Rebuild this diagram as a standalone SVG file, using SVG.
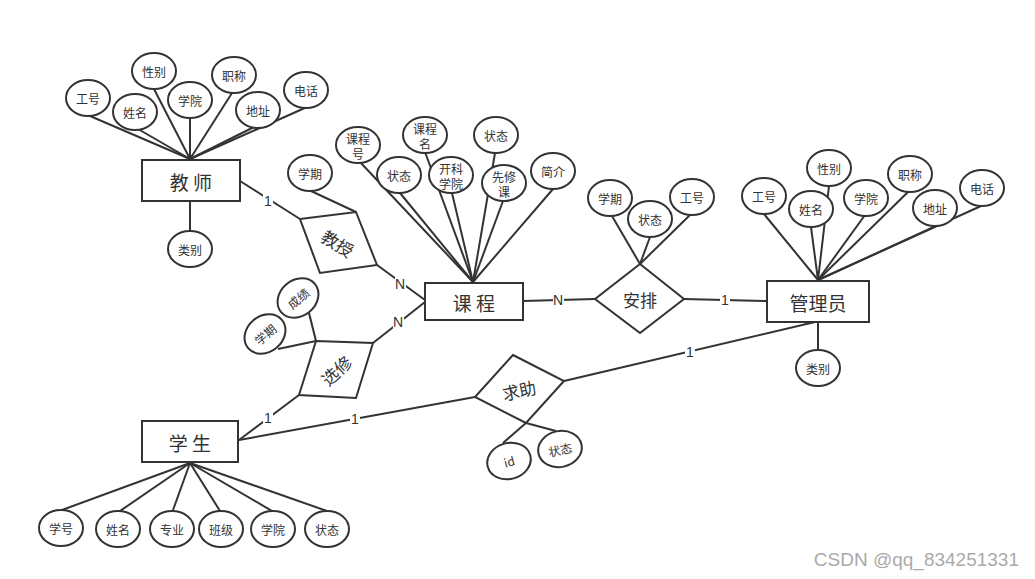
<svg xmlns="http://www.w3.org/2000/svg" width="1035" height="579" viewBox="0 0 1035 579">
<style>
.ln{stroke:#333;stroke-width:2;fill:none}
.at{fill:#fff;stroke:#333;stroke-width:2}
.en{fill:#fff;stroke:#333;stroke-width:2}
.rl{fill:#fff;stroke:#333;stroke-width:2}
.t{font-family:"Noto Sans CJK SC","Liberation Sans",sans-serif;font-size:12px;fill:#333;text-anchor:middle;dominant-baseline:central}
.te{font-family:"Noto Sans CJK SC","Liberation Sans",sans-serif;font-size:19px;fill:#333;text-anchor:middle;dominant-baseline:central}
.tr{font-family:"Noto Sans CJK SC","Liberation Sans",sans-serif;font-size:17px;fill:#333;text-anchor:middle;dominant-baseline:central}
.lb{font-family:"Liberation Sans",sans-serif;font-size:14px;fill:#333;text-anchor:middle;dominant-baseline:central}
</style>
<rect width="1035" height="579" fill="#fff"/>
<g id="connectors">
<!-- teacher attrs -->
<line class="ln" x1="190" y1="159" x2="90" y2="116"/>
<line class="ln" x1="190" y1="159" x2="138" y2="129"/>
<line class="ln" x1="190" y1="159" x2="154" y2="89"/>
<line class="ln" x1="190" y1="159" x2="190" y2="118"/>
<line class="ln" x1="190" y1="159" x2="232" y2="93"/>
<line class="ln" x1="190" y1="159" x2="254" y2="127"/>
<line class="ln" x1="190" y1="159" x2="307" y2="107"/>
<line class="ln" x1="190" y1="201" x2="190" y2="231"/>
<!-- teacher - teach -->
<line class="ln" x1="240" y1="181" x2="300" y2="219"/>
<line class="ln" x1="311" y1="191" x2="356" y2="212"/>
<line class="ln" x1="377" y1="265" x2="425" y2="300"/>
<!-- course attrs -->
<line class="ln" x1="473" y1="282" x2="360" y2="162"/>
<line class="ln" x1="473" y1="282" x2="400" y2="193"/>
<line class="ln" x1="473" y1="282" x2="425" y2="152"/>
<line class="ln" x1="473" y1="282" x2="452" y2="193"/>
<line class="ln" x1="473" y1="282" x2="495" y2="153"/>
<line class="ln" x1="473" y1="282" x2="503" y2="201"/>
<line class="ln" x1="473" y1="282" x2="553" y2="189"/>
<!-- course - arrange - admin -->
<line class="ln" x1="523" y1="301" x2="595" y2="299"/>
<line class="ln" x1="684" y1="299" x2="767" y2="301"/>
<line class="ln" x1="640" y1="264" x2="612" y2="216"/>
<line class="ln" x1="640" y1="264" x2="650" y2="237"/>
<line class="ln" x1="640" y1="264" x2="690" y2="215"/>
<!-- admin attrs -->
<line class="ln" x1="818" y1="280" x2="764" y2="214"/>
<line class="ln" x1="818" y1="280" x2="811" y2="227"/>
<line class="ln" x1="818" y1="280" x2="829" y2="186"/>
<line class="ln" x1="818" y1="280" x2="865" y2="215"/>
<line class="ln" x1="818" y1="280" x2="908" y2="192"/>
<line class="ln" x1="818" y1="280" x2="936" y2="226"/>
<line class="ln" x1="818" y1="280" x2="981" y2="206"/>
<line class="ln" x1="818" y1="322" x2="818" y2="351"/>
<!-- admin - help - student -->
<line class="ln" x1="815" y1="322" x2="564" y2="381"/>
<line class="ln" x1="475" y1="397" x2="239" y2="440"/>
<line class="ln" x1="526" y1="423" x2="503" y2="443"/>
<line class="ln" x1="526" y1="423" x2="556" y2="431"/>
<!-- elective -->
<line class="ln" x1="373" y1="343" x2="425" y2="302"/>
<line class="ln" x1="299" y1="395" x2="239" y2="440"/>
<line class="ln" x1="309" y1="313" x2="316" y2="341"/>
<line class="ln" x1="278" y1="349" x2="316" y2="341"/>
<!-- student attrs -->
<line class="ln" x1="190" y1="463" x2="62" y2="510"/>
<line class="ln" x1="190" y1="463" x2="120" y2="511"/>
<line class="ln" x1="190" y1="463" x2="173" y2="510"/>
<line class="ln" x1="190" y1="463" x2="220" y2="511"/>
<line class="ln" x1="190" y1="463" x2="272" y2="511"/>
<line class="ln" x1="190" y1="463" x2="327" y2="511"/>
<!-- labels -->
<rect x="263" y="194" width="10" height="14" fill="#fff"/>
<text class="lb" x="268" y="201">1</text>
<rect x="395" y="277" width="11" height="14" fill="#fff"/>
<text class="lb" x="400" y="284">N</text>
<rect x="393" y="315" width="11" height="14" fill="#fff"/>
<text class="lb" x="398" y="322">N</text>
<rect x="553" y="293" width="11" height="14" fill="#fff"/>
<text class="lb" x="558" y="300">N</text>
<rect x="720" y="293" width="10" height="14" fill="#fff"/>
<text class="lb" x="725" y="300">1</text>
<rect x="685" y="345" width="10" height="14" fill="#fff"/>
<text class="lb" x="690" y="352">1</text>
<rect x="350" y="412" width="10" height="14" fill="#fff"/>
<text class="lb" x="355" y="419">1</text>
<rect x="263" y="411" width="10" height="14" fill="#fff"/>
<text class="lb" x="268" y="418">1</text>
</g>
<g id="teacher"><rect class="en" x="142" y="160" width="98" height="41"/><text class="te" x="191" y="181">教 师</text></g>
<g id="t_gonghao"><ellipse class="at" cx="88" cy="98" rx="22" ry="18"/><text class="t" x="88" y="98">工号</text></g>
<g id="t_xingming"><ellipse class="at" cx="135" cy="112" rx="22" ry="18"/><text class="t" x="135" y="112">姓名</text></g>
<g id="t_xingbie"><ellipse class="at" cx="154" cy="71" rx="22" ry="18"/><text class="t" x="154" y="71">性别</text></g>
<g id="t_xueyuan"><ellipse class="at" cx="190" cy="100" rx="22" ry="18"/><text class="t" x="190" y="100">学院</text></g>
<g id="t_zhicheng"><ellipse class="at" cx="234" cy="75" rx="22" ry="18"/><text class="t" x="234" y="75">职称</text></g>
<g id="t_dizhi"><ellipse class="at" cx="258" cy="110" rx="22" ry="18"/><text class="t" x="258" y="110">地址</text></g>
<g id="t_dianhua"><ellipse class="at" cx="306" cy="90" rx="22" ry="18"/><text class="t" x="306" y="90">电话</text></g>
<g id="t_leibie"><ellipse class="at" cx="190" cy="249" rx="22" ry="18"/><text class="t" x="190" y="249">类别</text></g>
<g id="teach"><polygon class="rl" points="300,219 356,212 377,265 320,273"/><text class="tr" x="338" y="243" transform="rotate(32 338 243)">教授</text></g>
<g id="teach_xueqi"><ellipse class="at" cx="310" cy="173" rx="22" ry="18"/><text class="t" x="310" y="173">学期</text></g>
<g id="course"><rect class="en" x="425" y="283" width="98" height="37"/><text class="te" x="474" y="302">课 程</text></g>
<g id="c_kch"><ellipse class="at" cx="358" cy="145" rx="22" ry="18"/><text class="t" x="358" y="138">课程</text><text class="t" x="358" y="153">号</text></g>
<g id="c_zt1"><ellipse class="at" cx="399" cy="175" rx="22" ry="18"/><text class="t" x="399" y="175">状态</text></g>
<g id="c_kcm"><ellipse class="at" cx="425" cy="135" rx="22" ry="18"/><text class="t" x="425" y="128">课程</text><text class="t" x="425" y="143">名</text></g>
<g id="c_kkxy"><ellipse class="at" cx="451" cy="175" rx="22" ry="18"/><text class="t" x="451" y="168">开科</text><text class="t" x="451" y="183">学院</text></g>
<g id="c_zt2"><ellipse class="at" cx="496" cy="135" rx="22" ry="18"/><text class="t" x="496" y="135">状态</text></g>
<g id="c_xxk"><ellipse class="at" cx="504" cy="183" rx="22" ry="18"/><text class="t" x="504" y="176">先修</text><text class="t" x="504" y="191">课</text></g>
<g id="c_jj"><ellipse class="at" cx="553" cy="171" rx="22" ry="18"/><text class="t" x="553" y="171">简介</text></g>
<g id="arrange"><polygon class="rl" points="595,299 640,264 684,299 640,333"/><text class="tr" x="640" y="299">安排</text></g>
<g id="a_xueqi"><ellipse class="at" cx="610" cy="198" rx="22" ry="18"/><text class="t" x="610" y="198">学期</text></g>
<g id="a_zt"><ellipse class="at" cx="650" cy="219" rx="22" ry="18"/><text class="t" x="650" y="219">状态</text></g>
<g id="a_gh"><ellipse class="at" cx="692" cy="197" rx="22" ry="18"/><text class="t" x="692" y="197">工号</text></g>
<g id="admin"><rect class="en" x="767" y="281" width="102" height="41"/><text class="te" x="818" y="302">管理员</text></g>
<g id="m_gh"><ellipse class="at" cx="764" cy="196" rx="22" ry="18"/><text class="t" x="764" y="196">工号</text></g>
<g id="m_xb"><ellipse class="at" cx="829" cy="168" rx="22" ry="18"/><text class="t" x="829" y="168">性别</text></g>
<g id="m_xm"><ellipse class="at" cx="811" cy="209" rx="22" ry="18"/><text class="t" x="811" y="209">姓名</text></g>
<g id="m_xy"><ellipse class="at" cx="866" cy="198" rx="22" ry="18"/><text class="t" x="866" y="198">学院</text></g>
<g id="m_zc"><ellipse class="at" cx="910" cy="174" rx="22" ry="18"/><text class="t" x="910" y="174">职称</text></g>
<g id="m_dz"><ellipse class="at" cx="935" cy="208" rx="22" ry="18"/><text class="t" x="935" y="208">地址</text></g>
<g id="m_dh"><ellipse class="at" cx="982" cy="188" rx="22" ry="18"/><text class="t" x="982" y="188">电话</text></g>
<g id="m_lb"><ellipse class="at" cx="818" cy="368" rx="22" ry="18"/><text class="t" x="818" y="368">类别</text></g>
<g id="help"><polygon class="rl" points="513,355 564,381 526,423 475,397"/><text class="tr" x="519" y="390" transform="rotate(-12 519 390)">求助</text></g>
<g id="h_id"><ellipse class="at" cx="509" cy="461" rx="22" ry="18" transform="rotate(-15 509 461)"/><text class="t" x="509" y="461" transform="rotate(-15 509 461)">id</text></g>
<g id="h_zt"><ellipse class="at" cx="560" cy="449" rx="22" ry="18" transform="rotate(-12 560 449)"/><text class="t" x="560" y="449" transform="rotate(-12 560 449)">状态</text></g>
<g id="elective"><polygon class="rl" points="316,341 373,343 356,398 299,395"/><text class="tr" x="336" y="370" transform="rotate(-42 336 370)">选修</text></g>
<g id="e_cj"><ellipse class="at" cx="298" cy="298" rx="22" ry="18" transform="rotate(-40 298 298)"/><text class="t" x="298" y="298" transform="rotate(-40 298 298)">成绩</text></g>
<g id="e_xq"><ellipse class="at" cx="265" cy="334" rx="22" ry="18" transform="rotate(-40 265 334)"/><text class="t" x="265" y="334" transform="rotate(-40 265 334)">学期</text></g>
<g id="student"><rect class="en" x="142" y="421" width="96" height="41"/><text class="te" x="190" y="442">学 生</text></g>
<g id="s_xh"><ellipse class="at" cx="61" cy="528" rx="22" ry="18"/><text class="t" x="61" y="528">学号</text></g>
<g id="s_xm"><ellipse class="at" cx="118" cy="529" rx="22" ry="18"/><text class="t" x="118" y="529">姓名</text></g>
<g id="s_zy"><ellipse class="at" cx="172" cy="529" rx="22" ry="18"/><text class="t" x="172" y="529">专业</text></g>
<g id="s_bj"><ellipse class="at" cx="221" cy="529" rx="22" ry="18"/><text class="t" x="221" y="529">班级</text></g>
<g id="s_xy"><ellipse class="at" cx="273" cy="529" rx="22" ry="18"/><text class="t" x="273" y="529">学院</text></g>
<g id="s_zt"><ellipse class="at" cx="327" cy="529" rx="22" ry="18"/><text class="t" x="327" y="529">状态</text></g>
<text x="1019" y="559" font-family="'Liberation Sans',sans-serif" font-size="19" fill="#aaa" text-anchor="end" dominant-baseline="central">CSDN @qq_834251331</text>
</svg>
